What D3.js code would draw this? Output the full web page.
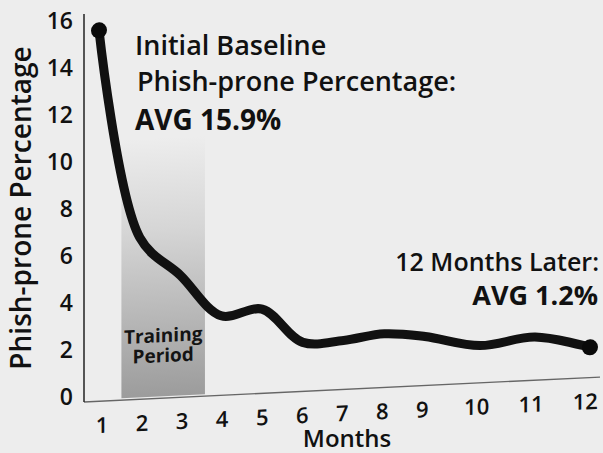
<!DOCTYPE html>
<html>
<head>
<meta charset="utf-8">
<script src="https://cdn.jsdelivr.net/npm/d3@7"></script>
<style>
  body { margin: 0; background: #ededed; }
  svg { display: block; font-family: "Open Sans", sans-serif; }
</style>
</head>
<body>
<div id="chart"></div>
<script>

var months = [1, 2, 3, 4, 5, 6, 7, 8, 9, 10, 11, 12]
var phishProne = [15.7, 6.8, 5.1, 3.3, 3.5, 2.0, 2.0, 2.2, 2.0, 1.5, 1.75, 1.2]
var yTicks = [0, 2, 4, 6, 8, 10, 12, 14, 16]
var trainingPeriod = [1.55, 3.6]
var trainingTop = 11
var baselineLines = ["Initial Baseline", "Phish-prone Percentage:"]
var baselineAvg = "AVG 15.9%"
var laterLines = ["12 Months Later:"]
var laterAvg = "AVG 1.2%"

var width = 603,
    height = 453,
    axisX = 84,
    slope = 0.0484; // the scanned chart's x axis tilts up to the right

var svg = d3.select("#chart").append("svg")
    .attr("width", width)
    .attr("height", height);

svg.append("rect")
    .attr("width", width)
    .attr("height", height)
    .attr("fill", "#ededed");

var x = d3.scaleLinear()
    .domain([1, 9, 12])
    .range([99, 425, 590]);

var y = d3.scaleLinear()
    .domain([0, 16])
    .range([400, 24]);

var defs = svg.append("defs");
var grad = defs.append("linearGradient")
    .attr("id", "trainGrad")
    .attr("x1", 0).attr("y1", 0).attr("x2", 0).attr("y2", 1);
grad.append("stop").attr("offset", "0%").attr("stop-color", "#ededed");
grad.append("stop").attr("offset", "35%").attr("stop-color", "#d6d6d6");
grad.append("stop").attr("offset", "100%").attr("stop-color", "#9c9c9c");

// plot group, skewed like the photographed original
var plot = svg.append("g")
    .attr("transform", "translate(0," + (slope * axisX) + ") skewY(" + (Math.atan(-slope) * 180 / Math.PI) + ")");

plot.append("rect")
    .attr("x", x(trainingPeriod[0]))
    .attr("y", y(trainingTop))
    .attr("width", x(trainingPeriod[1]) - x(trainingPeriod[0]))
    .attr("height", y(0) - y(trainingTop))
    .attr("fill", "url(#trainGrad)");

plot.selectAll(".trainLabel")
    .data(["Training", "Period"])
    .enter().append("text")
      .attr("class", "trainLabel")
      .attr("x", (x(trainingPeriod[0]) + x(trainingPeriod[1])) / 2)
      .attr("y", function(d, i) { return y(2.3) + i * 20; })
      .attr("text-anchor", "middle")
      .attr("font-size", 19)
      .attr("font-weight", 700)
      .attr("fill", "#141414")
      .text(function(d) { return d; });

// x axis line
plot.append("line")
    .attr("x1", axisX).attr("x2", 600)
    .attr("y1", y(0) + 2).attr("y2", y(0) + 2)
    .attr("stroke", "#666")
    .attr("stroke-width", 1.3);

plot.selectAll(".xLabel")
    .data(months)
    .enter().append("text")
      .attr("class", "xLabel")
      .attr("x", function(d) { return x(d) + 3 - (d - 1) * 0.7; })
      .attr("y", y(0) + 26)
      .attr("dy", "0.35em")
      .attr("text-anchor", "middle")
      .attr("font-size", 22)
      .attr("font-weight", 600)
      .attr("fill", "#111")
      .text(function(d) { return d; });

var line = d3.line()
    .x(function(d, i) { return x(months[i]); })
    .y(function(d) { return y(d); })
    .curve(d3.curveCatmullRom.alpha(0.5));

plot.append("path")
    .datum(phishProne)
    .attr("d", line)
    .attr("fill", "none")
    .attr("stroke", "#111")
    .attr("stroke-width", 9)
    .attr("stroke-linecap", "round")
    .attr("stroke-linejoin", "round");

plot.selectAll(".endDot")
    .data([0, phishProne.length - 1])
    .enter().append("circle")
      .attr("class", "endDot")
      .attr("cx", function(i) { return x(months[i]); })
      .attr("cy", function(i) { return y(phishProne[i]); })
      .attr("r", 8)
      .attr("fill", "#0a0a0a");

// y axis
svg.append("line")
    .attr("x1", axisX).attr("x2", axisX)
    .attr("y1", 14).attr("y2", y(0) + 2)
    .attr("stroke", "#222")
    .attr("stroke-width", 1.5);

svg.selectAll(".yLabel")
    .data(yTicks)
    .enter().append("text")
      .attr("class", "yLabel")
      .attr("x", 73)
      .attr("y", function(d) { return y(d) - 3; })
      .attr("dy", "0.35em")
      .attr("text-anchor", "end")
      .attr("font-size", 23)
      .attr("font-weight", 600)
      .attr("fill", "#111")
      .text(function(d) { return d; });

svg.append("text")
    .attr("transform", "translate(31,208) rotate(-90)")
    .attr("text-anchor", "middle")
    .attr("font-size", 28)
    .attr("font-weight", 600)
    .attr("fill", "#111")
    .text("Phish-prone Percentage");

svg.append("text")
    .attr("x", 347)
    .attr("y", 447)
    .attr("text-anchor", "middle")
    .attr("font-size", 24)
    .attr("font-weight", 600)
    .attr("fill", "#111")
    .text("Months");

// annotations
svg.selectAll(".baseNote")
    .data(baselineLines)
    .enter().append("text")
      .attr("class", "baseNote")
      .attr("x", function(d, i) { return 135 + i * 2; })
      .attr("y", function(d, i) { return 55 + i * 36; })
      .attr("font-size", 27)
      .attr("font-weight", 600)
      .attr("fill", "#111")
      .text(function(d) { return d; });

svg.append("text")
    .attr("x", 135)
    .attr("y", 130)
    .attr("font-size", 28)
    .attr("font-weight", "bold")
    .attr("fill", "#111")
    .text(baselineAvg);

svg.selectAll(".laterNote")
    .data(laterLines)
    .enter().append("text")
      .attr("class", "laterNote")
      .attr("x", 599)
      .attr("y", 271)
      .attr("text-anchor", "end")
      .attr("font-size", 25)
      .attr("font-weight", 600)
      .attr("fill", "#111")
      .text(function(d) { return d; });

svg.append("text")
    .attr("x", 598)
    .attr("y", 305)
    .attr("text-anchor", "end")
    .attr("font-size", 27)
    .attr("font-weight", "bold")
    .attr("fill", "#111")
    .text(laterAvg);

</script>
</body>
</html>
